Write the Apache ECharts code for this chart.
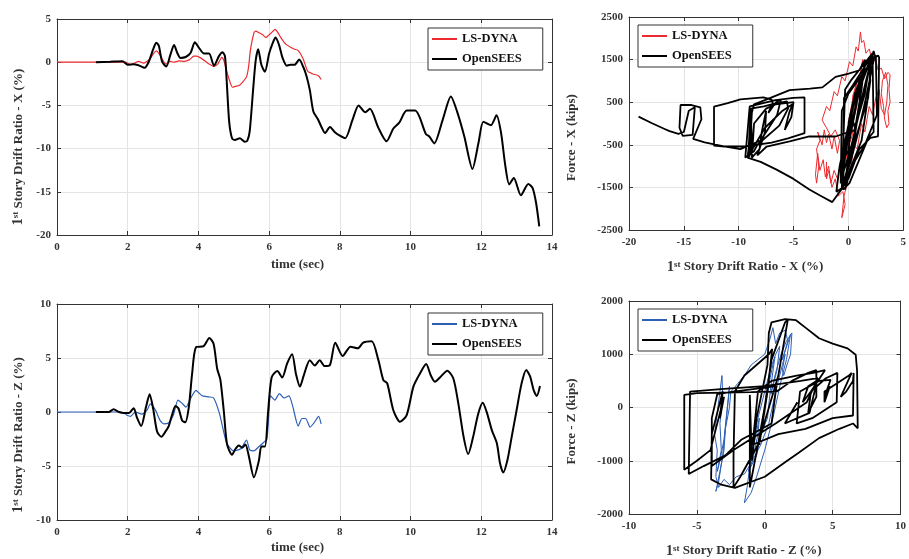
<!DOCTYPE html>
<html>
<head>
<meta charset="utf-8">
<script src="https://cdn.jsdelivr.net/npm/echarts/dist/echarts.min.js"></script>
<style>html,body{margin:0;padding:0;background:#fff}#c{width:909px;height:559px}</style>
</head>
<body>
<div id="c"></div>
<script>
// ---------------- DATA ----------------
// Panel 1: drift ratio X vs time  [time (sec), drift (%)]
const driftX_time_dyna = [[0,0],[1.0,0],[1.93,0],[2.09,-0.3],[2.2,-0.1],[2.31,0.1],[2.45,-0.1],[2.55,0.1],[2.65,0.5],[2.73,1.0],[2.81,1.3],[2.9,0.9],[3.0,0.2],[3.09,-0.2],[3.2,0.1],[3.3,0],[3.45,0.15],[3.6,0.1],[3.75,0.3],[3.87,0.7],[3.95,0.7],[4.06,0.5],[4.2,0.1],[4.3,-0.2],[4.44,-0.5],[4.55,-0.2],[4.66,0.55],[4.72,0.2],[4.77,-0.6],[4.87,-2.0],[4.96,-2.9],[5.05,-2.8],[5.15,-2.7],[5.25,-2.3],[5.36,-1.7],[5.42,-0.5],[5.47,1.4],[5.57,3.4],[5.62,3.6],[5.72,3.4],[5.81,3.2],[5.91,2.85],[5.98,3.1],[6.05,3.35],[6.17,3.8],[6.25,3.4],[6.33,2.85],[6.47,2.1],[6.62,1.7],[6.72,1.5],[6.81,1.4],[6.95,0.5],[7.09,-1.05],[7.18,-1.25],[7.25,-1.4],[7.33,-1.45],[7.4,-1.6],[7.47,-2.0]];
const driftX_time_sees = [[1.1,0],[1.5,0.05],[1.85,0.1],[2.0,-0.3],[2.15,-0.25],[2.3,-0.35],[2.48,-0.65],[2.6,0.1],[2.72,1.5],[2.81,2.25],[2.88,1.9],[2.97,0.1],[3.09,-0.5],[3.21,0.9],[3.31,2.0],[3.4,1.1],[3.49,0.5],[3.64,0.6],[3.78,1.1],[3.9,2.3],[4.01,1.7],[4.16,1.0],[4.3,1.0],[4.44,-0.4],[4.58,0.7],[4.68,1.15],[4.75,0.7],[4.8,-2.2],[4.87,-6.9],[4.95,-8.8],[5.03,-9.0],[5.17,-8.8],[5.31,-9.2],[5.38,-9.1],[5.45,-8.0],[5.55,-3.0],[5.62,0.2],[5.69,1.5],[5.78,-0.3],[5.88,-1.1],[6.0,1.0],[6.1,2.2],[6.18,2.85],[6.28,2.0],[6.38,0.5],[6.5,-0.4],[6.6,-0.3],[6.72,-0.3],[6.85,0.3],[6.96,-0.5],[7.05,-1.5],[7.15,-3.2],[7.25,-5.7],[7.38,-6.6],[7.48,-7.5],[7.58,-8.2],[7.72,-7.5],[7.86,-8.1],[8.0,-8.5],[8.15,-8.8],[8.36,-6.65],[8.53,-5.0],[8.72,-5.8],[8.85,-5.4],[9.09,-7.6],[9.32,-9.15],[9.51,-7.7],[9.68,-7.0],[9.89,-5.6],[10.13,-5.6],[10.25,-6.3],[10.43,-8.3],[10.53,-8.6],[10.67,-9.4],[10.91,-6.65],[11.14,-3.96],[11.33,-5.9],[11.52,-8.6],[11.75,-12.35],[11.92,-9.35],[12.06,-6.9],[12.27,-7.3],[12.43,-6.15],[12.56,-8.2],[12.68,-12.0],[12.79,-14.15],[12.92,-13.4],[13.12,-15.4],[13.33,-14.1],[13.45,-14.55],[13.55,-16.3],[13.64,-19.0]];

// Panel 3: drift ratio Z vs time
const driftZ_time_dyna = [[0,0],[1.8,0],[1.9,-0.1],[1.98,-0.3],[2.08,-0.4],[2.22,0],[2.4,-0.2],[2.55,0.2],[2.64,0.75],[2.78,0.2],[2.92,-0.8],[3.02,-1.1],[3.16,-1.0],[3.3,-0.2],[3.42,1.1],[3.54,0.8],[3.65,0.45],[3.77,1.2],[3.93,2.0],[4.1,1.5],[4.29,1.4],[4.43,1.3],[4.6,-0.2],[4.8,-2.9],[5.0,-3.6],[5.2,-3.4],[5.36,-2.6],[5.45,-3.5],[5.57,-3.6],[5.71,-3.2],[5.85,-2.8],[5.94,-2.5],[6.04,1.5],[6.16,1.1],[6.29,1.7],[6.42,1.3],[6.56,1.5],[6.67,0.5],[6.82,-1.3],[6.93,-0.6],[7.03,-0.6],[7.16,-1.4],[7.27,-1.0],[7.4,-0.4],[7.47,-1.1]];
const driftZ_time_sees = [[1.1,0],[1.46,0],[1.6,0.25],[1.75,0],[1.89,-0.1],[2.03,-0.1],[2.17,0.35],[2.26,-0.5],[2.38,-1.3],[2.52,0.5],[2.62,1.65],[2.72,0.3],[2.83,-1.8],[2.95,-2.3],[3.07,-1.8],[3.16,-1.3],[3.25,-0.3],[3.35,0.55],[3.44,0.3],[3.54,-0.8],[3.63,-0.95],[3.73,0.5],[3.82,3.5],[3.93,6.0],[4.15,6.1],[4.31,6.85],[4.43,6.3],[4.53,4.0],[4.62,3.0],[4.72,0],[4.81,-3.0],[4.95,-3.95],[5.05,-3.4],[5.14,-3.1],[5.24,-3.3],[5.33,-3.0],[5.42,-4.0],[5.57,-6.05],[5.71,-4.5],[5.78,-3.2],[5.88,-3.2],[5.97,0],[6.07,3.2],[6.23,3.8],[6.37,3.2],[6.51,4.5],[6.65,5.35],[6.76,3.5],[6.87,2.35],[6.98,3.4],[7.15,4.8],[7.29,4.3],[7.43,4.8],[7.57,4.25],[7.72,4.35],[7.87,6.42],[8.08,5.19],[8.3,6.05],[8.51,5.9],[8.66,6.42],[8.9,6.55],[9.09,4.8],[9.23,2.96],[9.34,2.65],[9.51,0.19],[9.7,-0.9],[9.89,-0.28],[10.08,2.35],[10.27,3.58],[10.44,4.44],[10.57,3.4],[10.69,2.8],[10.83,3.2],[11.04,3.83],[11.21,3.1],[11.35,0.8],[11.5,-2.3],[11.63,-3.9],[11.77,-2.3],[11.91,-0.2],[12.04,0.86],[12.15,0.03],[12.3,-1.7],[12.44,-2.9],[12.53,-4.75],[12.62,-5.6],[12.74,-4.44],[12.86,-2.3],[13.0,0.19],[13.14,2.65],[13.27,3.9],[13.38,3.3],[13.48,2.04],[13.57,1.48],[13.66,2.4]];

// Panel 2: force X vs drift X  [drift (%), force (kips)]
const forceX_dyna = [[0,0],[0.2,250],[0.05,100],[0.5,700],[0.35,500],[0.9,1100],[1.0,950],[1.3,1500],[1.1,1200],[0.7,600],[0.8,450],[0.3,-100],[0.4,-250],[-0.1,-600],[0.05,-450],[-0.3,-900],[-0.1,-500],[0.2,-100],[0.1,100],[0.5,500],[0.4,650],[0.7,900],[0.5,400],[0.2,-200],[0,-600],[-0.4,-1000],[-0.7,-900],[-1.0,-1300],[-1.3,-1100],[-1.6,-1400],[-1.8,-1000],[-2.1,-1250],[-2.3,-850],[-2.6,-1100],[-2.8,-700],[-3.0,-1200],[-2.9,-1400],[-2.7,-1000],[-2.9,-600],[-2.6,-400],[-2.8,-200],[-2.4,-500],[-2.2,-150],[-2.0,-450],[-1.8,-250],[-1.5,-600],[-1.3,-300],[-1.0,-700],[-0.8,-400],[-1.2,-150],[-1.6,-300],[-2.0,-100],[-2.4,80],[-2.0,400],[-1.7,300],[-1.3,750],[-1.0,650],[-0.6,1100],[-0.3,1000],[0.1,1450],[0.4,1350],[0.7,1800],[0.9,1700],[1.1,2150],[1.2,1900],[1.4,1950],[1.6,1650],[1.9,1750],[2.2,1450],[2.5,1500],[2.7,1250],[3.0,1300],[3.3,1050],[3.6,1200],[3.8,1150],[3.7,800],[3.8,500],[3.6,300],[3.7,0],[3.5,-100],[3.3,100],[3.2,400],[3.0,700],[3.1,1000],[3.4,1200],[3.6,900],[3.5,500],[3.3,200],[3.0,350],[2.8,800],[2.5,600],[2.2,200],[1.9,400],[1.5,-200],[1.2,0],[0.8,-600],[0.5,-500],[0.2,-1100],[0,-1000],[-0.2,-1500],[-0.4,-1700],[-0.6,-2210],[-0.3,-1900],[-0.5,-1600],[-0.9,-1700],[-1.2,-1300],[-1.5,-1500],[-1.8,-1100],[-2.0,-1300],[-2.0,-900]];
const forceX_sees = [[0,0],[0.6,700],[1.6,1400],[2.2,1650],[1.6,900],[0.2,-600],[-0.4,-1100],[-0.6,-1250],[0,-300],[1.2,1000],[2.0,1500],[1.5,700],[0.5,-200],[1.6,1000],[2.3,1700],[2.4,1600],[1.6,600],[0.9,-200],[0.2,-900],[-0.5,-1400],[-0.3,-600],[0.5,500],[1.1,1000],[1.0,400],[0.4,-600],[-0.5,-1500],[-1.47,-1845],[-2.5,-1700],[-3.56,-1550],[-5,-1300],[-6.55,-1083],[-8,-900],[-9.2,-800],[-9.0,-760],[-8.8,-450],[-8.9,300],[-9.1,-600],[-9.2,-800],[-9.0,-650],[-8.8,250],[-8.6,450],[-7.5,560],[-5.36,784],[-3.5,820],[-2.37,847],[-1.17,1095],[0.03,1173],[1.0,1250],[1.5,1500],[1.2,800],[0.3,-600],[-0.5,-1500],[-1.1,-1600],[-0.8,-1000],[0.2,200],[1.2,1000],[2.0,1450],[2.7,1600],[2.8,1550],[2.7,-300],[2.0,-340],[1.0,-600],[0,-1300],[-0.6,-1500],[-0.3,800],[0.2,1000],[2.2,1650],[2.3,-200],[1.8,-350],[0.1,-1400],[-0.5,-1550],[-0.4,600],[0.4,900],[1.9,1500],[2.0,1000],[1.2,-400],[-0.2,-1300],[-0.7,-1400],[-0.6,300],[0,700],[1.4,1200],[2.5,1600],[2.6,200],[1.5,-500],[0.3,-1000],[-0.3,-1550],[0.1,-400],[1.0,800],[2.1,1550],[1.8,600],[0.6,-400],[-0.4,-800],[-0.3,-500],[0.3,100],[-0.3,-400],[-0.5,-600],[0.3,200],[0.63,-150],[-1.17,-305],[-3.56,-305],[-5.36,-420],[-7.45,-540],[-8.3,-750],[-7.6,-200],[-7.5,300],[-7.9,-200],[-8.1,-600],[-8.8,-800],[-8.6,0],[-7.5,350],[-6.65,450],[-5.0,500],[-5.2,150],[-5.8,-150],[-5.4,250],[-5.1,450],[-6.0,300],[-7.6,-100],[-9.15,-780],[-9.0,-300],[-8.9,350],[-7.7,400],[-7.0,450],[-5.6,520],[-5.5,350],[-6.3,-50],[-8.3,-500],[-8.6,-650],[-9.4,-800],[-9.2,-200],[-9.0,400],[-6.65,550],[-5,600],[-4.0,613],[-4.0,-227],[-5.5,-350],[-7,-450],[-9.5,-540],[-11.3,-540],[-12.25,-520],[-12.25,395],[-11,480],[-9.85,566],[-7.75,613],[-7.0,560],[-6.9,480],[-7.3,250],[-6.6,500],[-6.15,560],[-6.5,200],[-8,-400],[-9.85,-600],[-11.35,-538],[-13.1,-445],[-14.15,-360],[-13.4,100],[-13.5,380],[-14.3,434],[-15.3,434],[-15.4,-100],[-15.1,-290],[-14.2,-266],[-14.0,380],[-14.55,300],[-15.0,-200],[-15.5,-243],[-16.3,-180],[-16.7,-134],[-17.9,5],[-19.13,162]];

// Panel 4: force Z vs drift Z
const forceZ_dyna = [[0,0],[0.3,400],[0.1,200],[0.6,800],[0.75,950],[0.4,300],[0.2,-200],[-0.3,-500],[-0.6,-900],[-1.1,-1150],[-0.9,-700],[-0.5,-200],[0,300],[0.4,700],[0.8,1000],[1.1,1150],[0.9,700],[0.6,400],[0.45,250],[0.8,650],[1.2,1000],[1.6,1250],[2.0,1400],[1.9,1000],[1.7,850],[1.4,600],[1.3,700],[1.5,1000],[1.3,800],[0.8,300],[0.3,-300],[-0.3,-700],[-0.9,-1000],[-1.5,-1250],[-2.1,-1300],[-2.6,-1450],[-3.0,-1350],[-3.4,-1500],[-3.6,-1300],[-3.5,-800],[-3.7,-500],[-3.5,-100],[-3.3,300],[-3.15,600],[-3.1,200],[-3.3,-300],[-3.2,-800],[-3.5,-1200],[-3.3,-1000],[-3.0,-600],[-2.8,-100],[-2.6,400],[-2.7,100],[-2.9,-400],[-3.1,-900],[-3.4,-1400],[-3.6,-1575],[-3.3,-1200],[-3.0,-800],[-2.9,-400],[-2.6,0],[-2.5,300],[-2.3,350],[-2.0,450],[-1.5,600],[-1.0,800],[-0.5,900],[0,1000],[0.4,1300],[0.6,1500],[0.8,1200],[1.1,1400],[1.5,1450],[1.7,1250],[1.3,900],[1.9,1375],[1.6,900],[1.2,500],[0.6,-200],[0,-800],[-0.6,-1300],[-1.0,-1600],[-1.5,-1790],[-1.3,-1500],[-1.1,-1100],[-0.9,-700],[-0.6,-300],[-0.9,-800],[-1.2,-1200],[-0.9,-1000],[-0.5,-500],[-0.4,-200],[-0.8,-700],[-1.1,-800]];
const forceZ_sees = [[0,0],[0.3,500],[-0.2,-300],[0.2,300],[-0.4,-700],[0.5,900],[1.5,1600],[1.7,1650],[1.0,600],[-0.5,-700],[-1.8,-1300],[-2.3,-1500],[-2.3,-900],[-2.2,300],[-1.5,600],[0.3,1000],[0.55,1100],[0.2,300],[-0.5,-700],[-1.1,-1500],[-1.1,237],[-0.95,-1000],[-0.6,-200],[0.2,800],[0.3,1400],[0.5,1600],[1.5,1660],[2.3,1640],[3.0,1500],[4.0,1300],[5.0,1200],[6.1,1110],[6.7,990],[6.8,700],[6.85,-390],[6.5,-300],[5.5,-400],[4.0,-575],[2.5,-850],[1.6,-1010],[0,-1300],[-2.2,-1510],[-3.2,-1450],[-3.95,-1350],[-3.9,-500],[-3.1,300],[-3.3,-200],[-3.0,200],[-4.0,-800],[-5.0,-1000],[-5.93,-1170],[-5.93,237],[-5,270],[-3,280],[-1,290],[0.88,300],[2,500],[3.2,650],[3.8,700],[3.8,200],[3.2,-100],[3.4,300],[4.5,550],[5.35,650],[5.3,100],[3.5,-200],[2.35,-300],[2.6,300],[4.0,500],[4.85,520],[4.4,200],[4.8,400],[4.4,100],[4.4,300],[6.2,600],[6.4,650],[5.6,200],[6.0,300],[6.5,500],[6.55,650],[6.5,-150],[5,-200],[3,-400],[1,-500],[-0.9,-700],[-0.5,300],[0.5,500],[2.35,600],[3.58,650],[4.44,700],[3.4,300],[2.8,100],[3.2,400],[3.83,500],[3.1,100],[0.8,-300],[-2.3,-800],[-3.9,-1100],[-3.9,-200],[-3.5,250],[-2.3,300],[0.86,400],[0.5,-300],[-1.7,-600],[-2.9,-900],[-4.5,-1100],[-5.6,-1250],[-5.5,300],[-3,350],[0,400],[2.65,500],[3.9,550],[3.3,-100],[1.48,-300],[2.4,100]];

const seriesNames = ['LS-DYNA', 'OpenSEES'];
const timeTitle = 'time (sec)';
const forceTitles = ['Force - X (kips)', 'Force - Z (kips)'];
const driftTitles = ['Story Drift Ratio - X (%)', 'Story Drift Ratio - Z (%)'];

// ---------------- STYLE ----------------
const FONT = 'Liberation Serif';
const AX = '#333';
const GRIDC = '#e4e4e4';
const RED = '#ec2a2f';
const BLUE = '#2d5fb5';
const tickFont = {fontFamily: FONT, fontWeight: 'bold', fontSize: 11, color: AX};
const richSup = {
  a: {fontFamily: FONT, fontWeight: 'bold', fontSize: 14, color: AX, verticalAlign: 'bottom'},
  b: {fontFamily: FONT, fontWeight: 'bold', fontSize: 9, color: AX, verticalAlign: 'top'}
};
function supTitle(t) { return '{a|1}{b|st} ' + t; }

const grids = [
  {left: 57, top: 19, width: 495, height: 216},
  {left: 629, top: 17, width: 279, height: 213},
  {left: 57, top: 304, width: 495, height: 216},
  {left: 629, top: 301, width: 279, height: 213}
];

function xAxes(g, min, max, interval, name, nameGap, padRight, rich) {
  return [{
    gridIndex: g, type: 'value', min, max, interval, position: 'bottom',
    axisLine: {show: true, onZero: false, lineStyle: {color: AX, width: 1}},
    axisTick: {show: true, inside: true, length: 4, lineStyle: {color: AX}},
    axisLabel: Object.assign({margin: 7, formatter: v => String(v)}, tickFont),
    splitLine: {show: true, lineStyle: {color: GRIDC, width: 1}},
    name, nameLocation: 'middle', nameGap,
    nameTextStyle: {fontFamily: FONT, fontWeight: 'bold', fontSize: 13, color: AX, padding: [0, padRight, 0, 0], rich: rich || undefined}
  }, {
    gridIndex: g, type: 'value', min, max, interval, position: 'top',
    axisLine: {show: true, onZero: false, lineStyle: {color: AX, width: 1}},
    axisTick: {show: true, inside: true, length: 4, lineStyle: {color: AX}},
    axisLabel: {show: false}, splitLine: {show: false}
  }];
}
function yAxes(g, min, max, interval, name, nameGap, padRight, rich) {
  return [{
    gridIndex: g, type: 'value', min, max, interval, position: 'left',
    axisLine: {show: true, onZero: false, lineStyle: {color: AX, width: 1}},
    axisTick: {show: true, inside: true, length: 4, lineStyle: {color: AX}},
    axisLabel: Object.assign({margin: 6, formatter: v => String(v)}, tickFont),
    splitLine: {show: true, lineStyle: {color: GRIDC, width: 1}},
    name, nameLocation: 'middle', nameGap, nameRotate: 90,
    nameTextStyle: {fontFamily: FONT, fontWeight: 'bold', fontSize: 13, color: AX, padding: [0, padRight, 0, 0], rich: rich || undefined}
  }, {
    gridIndex: g, type: 'value', min, max, interval, position: 'right',
    axisLine: {show: true, onZero: false, lineStyle: {color: AX, width: 1}},
    axisTick: {show: true, inside: true, length: 4, lineStyle: {color: AX}},
    axisLabel: {show: false}, splitLine: {show: false}
  }];
}

const xAxis = [].concat(
  xAxes(0, 0, 14, 2, timeTitle, 23, 14),
  xAxes(1, -20, 5, 5, supTitle(driftTitles[0]), 30, 42, richSup),
  xAxes(2, 0, 14, 2, timeTitle, 21, 14),
  xAxes(3, -10, 10, 5, supTitle(driftTitles[1]), 30, 42, richSup)
);
const yAxis = [].concat(
  yAxes(0, -20, 5, 5, supTitle(driftTitles[0]), 31, 40, richSup),
  yAxes(1, -2500, 2500, 1000, forceTitles[0], 51, 28),
  yAxes(2, -10, 10, 5, supTitle(driftTitles[1]), 31, 46, richSup),
  yAxes(3, -2000, 2000, 1000, forceTitles[1], 51, 28)
);

function line(name, g, data, color, width, smooth) {
  return {
    name, type: 'line', xAxisIndex: 2 * g, yAxisIndex: 2 * g, data,
    symbol: 'none', showSymbol: false, smooth: smooth || false,
    lineStyle: {color, width}, itemStyle: {color}, animation: false, z: width > 1.5 ? 3 : 2
  };
}

const series = [
  line(seriesNames[0] + '#1', 0, driftX_time_dyna, RED, 1.2, 0.2),
  line(seriesNames[1] + '#1', 0, driftX_time_sees, '#000', 2, 0.25),
  line(seriesNames[0] + '#2', 1, forceX_dyna, RED, 1, false),
  line(seriesNames[1] + '#2', 1, forceX_sees, '#000', 1.8, false),
  line(seriesNames[0] + '#3', 2, driftZ_time_dyna, BLUE, 1.2, 0.2),
  line(seriesNames[1] + '#3', 2, driftZ_time_sees, '#000', 2, 0.25),
  line(seriesNames[0] + '#4', 3, forceZ_dyna, BLUE, 1, false),
  line(seriesNames[1] + '#4', 3, forceZ_sees, '#000', 1.8, false)
];

function legend(k, left, top) {
  return {
    left, top, orient: 'vertical', selectedMode: false,
    data: [seriesNames[0] + '#' + k, seriesNames[1] + '#' + k],
    formatter: n => n.split('#')[0],
    backgroundColor: '#fff', borderColor: AX, borderWidth: 1, borderRadius: 0,
    padding: [0, 21, 0, 3], itemGap: -2, itemWidth: 25, itemHeight: 14,
    itemStyle: {opacity: 0},
    textStyle: {fontFamily: FONT, fontWeight: 'bold', fontSize: 12.5, color: '#111', lineHeight: 12, padding: [0, 0, 10, 0]}
  };
}

const chart = echarts.init(document.getElementById('c'), null, {renderer: 'canvas'});
chart.setOption({
  animation: false,
  backgroundColor: '#fff',
  grid: grids.map(g => Object.assign({containLabel: false}, g)),
  xAxis, yAxis, series,
  legend: [legend(1, 428, 28), legend(2, 638, 25), legend(3, 428, 313), legend(4, 638, 309)]
});
</script>
</body>
</html>
